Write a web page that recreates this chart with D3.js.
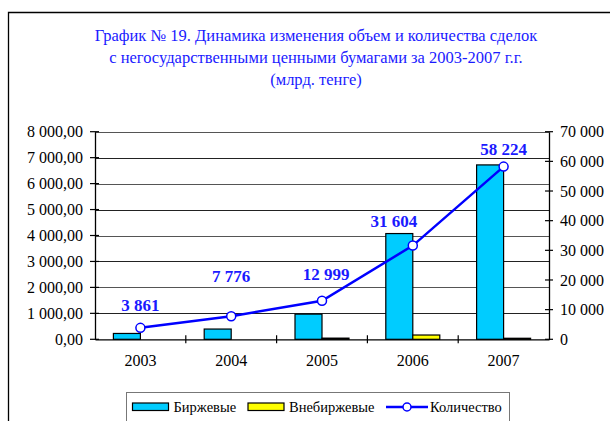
<!DOCTYPE html>
<html>
<head>
<meta charset="utf-8">
<script src="https://cdn.jsdelivr.net/npm/d3@7"></script>
<style>
  body { margin: 0; background: #fff; }
  svg { display: block; font-family: "Liberation Serif", "Times New Roman", serif; }
</style>
</head>
<body>
<svg width="610" height="421"></svg>
<script>
const years = ['2003', '2004', '2005', '2006', '2007']
const birzh = [225, 395, 970, 4075, 6720]
const vnebirzh = [0, 0, 45, 165, 40]
const kolvo = [3861, 7776, 12999, 31604, 58224]
const leftTicks = [0, 1000, 2000, 3000, 4000, 5000, 6000, 7000, 8000]
const rightTicks = [0, 10000, 20000, 30000, 40000, 50000, 60000, 70000]
const titleLines = [
    'График № 19. Динамика изменения объем и количества сделок',
    'с негосударственными ценными бумагами за 2003-2007 г.г.',
    '(млрд. тенге)'
]
// hand-moved data labels (nudge from the point, px)
const labelNudge = [[0, -17], [0, -34], [4, -21], [-19, -19], [0, -12]]

const svg = d3.select('svg')
const plotLeft = 95, plotRight = 549, plotTop = 131.7, plotBottom = 339.3

// frame
svg.append('path')
    .attr('d', `M8.5,421 V12.5 H610`)
    .attr('fill', 'none')
    .attr('stroke', '#000')
    .attr('stroke-width', 1.3)

svg.selectAll('.title')
    .data(titleLines)
    .join('text')
    .attr('class', 'title')
    .attr('x', 316)
    .attr('y', (d, i) => 40.5 + i * 22)
    .attr('text-anchor', 'middle')
    .style('font-size', '16.5px')
    .style('fill', '#1a1aff')
    .text(d => d)

const x = d3.scaleBand().domain(years).range([plotLeft, plotRight])
const yL = d3.scaleLinear().domain([0, 8000]).range([plotBottom, plotTop])
const yR = d3.scaleLinear().domain([0, 70000]).range([plotBottom, plotTop])

// gridlines
svg.append('g')
    .selectAll('line')
    .data(leftTicks.slice(1))
    .join('line')
    .attr('x1', plotLeft).attr('x2', plotRight)
    .attr('y1', d => Math.round(yL(d)) + 0.5)
    .attr('y2', d => Math.round(yL(d)) + 0.5)
    .attr('stroke', (d, i) => i % 2 ? '#555' : '#222')
    .attr('stroke-width', 1)

const fmtL = d => d3.format(',.2f')(d).replace(/,/g, ' ').replace('.', ',')
const fmtR = d => d3.format(',')(d).replace(/,/g, ' ')

const bw = 27
svg.append('g')
    .selectAll('rect')
    .data(birzh)
    .join('rect')
    .attr('x', (d, i) => x(years[i]) + x.bandwidth() / 2 - bw)
    .attr('y', d => yL(d))
    .attr('width', bw)
    .attr('height', d => plotBottom - yL(d))
    .attr('fill', '#00ccff')
    .attr('stroke', '#000')
    .attr('stroke-width', 1.2)

svg.append('g')
    .selectAll('rect')
    .data(vnebirzh)
    .join('rect')
    .attr('x', (d, i) => x(years[i]) + x.bandwidth() / 2)
    .attr('y', d => yL(d))
    .attr('width', bw)
    .attr('height', d => plotBottom - yL(d))
    .attr('fill', '#ffff00')
    .attr('stroke', '#000')
    .attr('stroke-width', 1.2)
    .style('display', d => d > 0 ? null : 'none')

// axes
const axL = svg.append('g')
    .attr('transform', `translate(${plotLeft},0)`)
    .call(d3.axisLeft(yL).tickValues(leftTicks).tickFormat(fmtL).tickSize(0).tickPadding(12))
const axR = svg.append('g')
    .attr('transform', `translate(${plotRight},0)`)
    .call(d3.axisRight(yR).tickValues(rightTicks).tickFormat(fmtR).tickSize(0).tickPadding(11))
const axB = svg.append('g')
    .attr('transform', `translate(0,${plotBottom})`)
    .call(d3.axisBottom(x).tickSize(0).tickPadding(15))

for (const ax of [axL, axR, axB]) {
    ax.select('.domain').attr('stroke', '#000').attr('stroke-width', 1.3)
    ax.selectAll('text').style('font-size', '16px').style('fill', '#000')
        .style('font-family', '"Liberation Serif", serif')
}

// cross ticks
svg.append('g').selectAll('line').data(leftTicks).join('line')
    .attr('x1', plotLeft - 5).attr('x2', plotLeft + 4)
    .attr('y1', d => yL(d)).attr('y2', d => yL(d))
    .attr('stroke', '#000').attr('stroke-width', 1.2)
svg.append('g').selectAll('line').data(rightTicks).join('line')
    .attr('x1', plotRight - 4).attr('x2', plotRight + 4)
    .attr('y1', d => yR(d)).attr('y2', d => yR(d))
    .attr('stroke', '#000').attr('stroke-width', 1.2)
svg.append('g').selectAll('line').data(years.slice(1)).join('line')
    .attr('x1', d => x(d)).attr('x2', d => x(d))
    .attr('y1', plotBottom - 4).attr('y2', plotBottom + 4)
    .attr('stroke', '#000').attr('stroke-width', 1.2)

// line
const cx = (d, i) => x(years[i]) + x.bandwidth() / 2
svg.append('path')
    .datum(kolvo)
    .attr('d', d3.line().x(cx).y(d => yR(d)))
    .attr('fill', 'none')
    .attr('stroke', '#0000ff')
    .attr('stroke-width', 2.5)

svg.append('g')
    .selectAll('circle')
    .data(kolvo)
    .join('circle')
    .attr('cx', cx)
    .attr('cy', d => yR(d))
    .attr('r', 4.5)
    .attr('fill', '#fff')
    .attr('stroke', '#0000ff')
    .attr('stroke-width', 1.5)

svg.append('g')
    .selectAll('text')
    .data(kolvo)
    .join('text')
    .attr('x', (d, i) => cx(d, i) + labelNudge[i][0])
    .attr('y', (d, i) => yR(d) + labelNudge[i][1])
    .attr('text-anchor', 'middle')
    .style('font-size', '17px')
    .style('font-weight', 'bold')
    .style('fill', '#1a1aff')
    .text(fmtR)

// legend
const lg = svg.append('g')
lg.append('rect')
    .attr('x', 126.5).attr('y', 392.5)
    .attr('width', 383).attr('height', 40)
    .attr('fill', '#fff').attr('stroke', '#777').attr('stroke-width', 1)

const legendItems = [
    { name: 'Биржевые', type: 'rect', color: '#00ccff', x: 132.5 },
    { name: 'Внебиржевые', type: 'rect', color: '#ffff00', x: 248 },
    { name: 'Количество', type: 'line', color: '#0000ff', x: 386 }
]
legendItems.forEach(it => {
    if (it.type === 'rect') {
        lg.append('rect')
            .attr('x', it.x).attr('y', 403)
            .attr('width', 36).attr('height', 7.5)
            .attr('fill', it.color).attr('stroke', '#000').attr('stroke-width', 1.2)
    } else {
        lg.append('line')
            .attr('x1', it.x).attr('x2', it.x + 42)
            .attr('y1', 407).attr('y2', 407)
            .attr('stroke', it.color).attr('stroke-width', 2.5)
        lg.append('circle')
            .attr('cx', it.x + 21).attr('cy', 407).attr('r', 4)
            .attr('fill', '#fff').attr('stroke', it.color).attr('stroke-width', 1.5)
    }
    lg.append('text')
        .attr('x', it.type === 'rect' ? it.x + 41 : it.x + 44)
        .attr('y', 412)
        .style('font-size', '14.5px')
        .text(it.name)
})
</script>
</body>
</html>
